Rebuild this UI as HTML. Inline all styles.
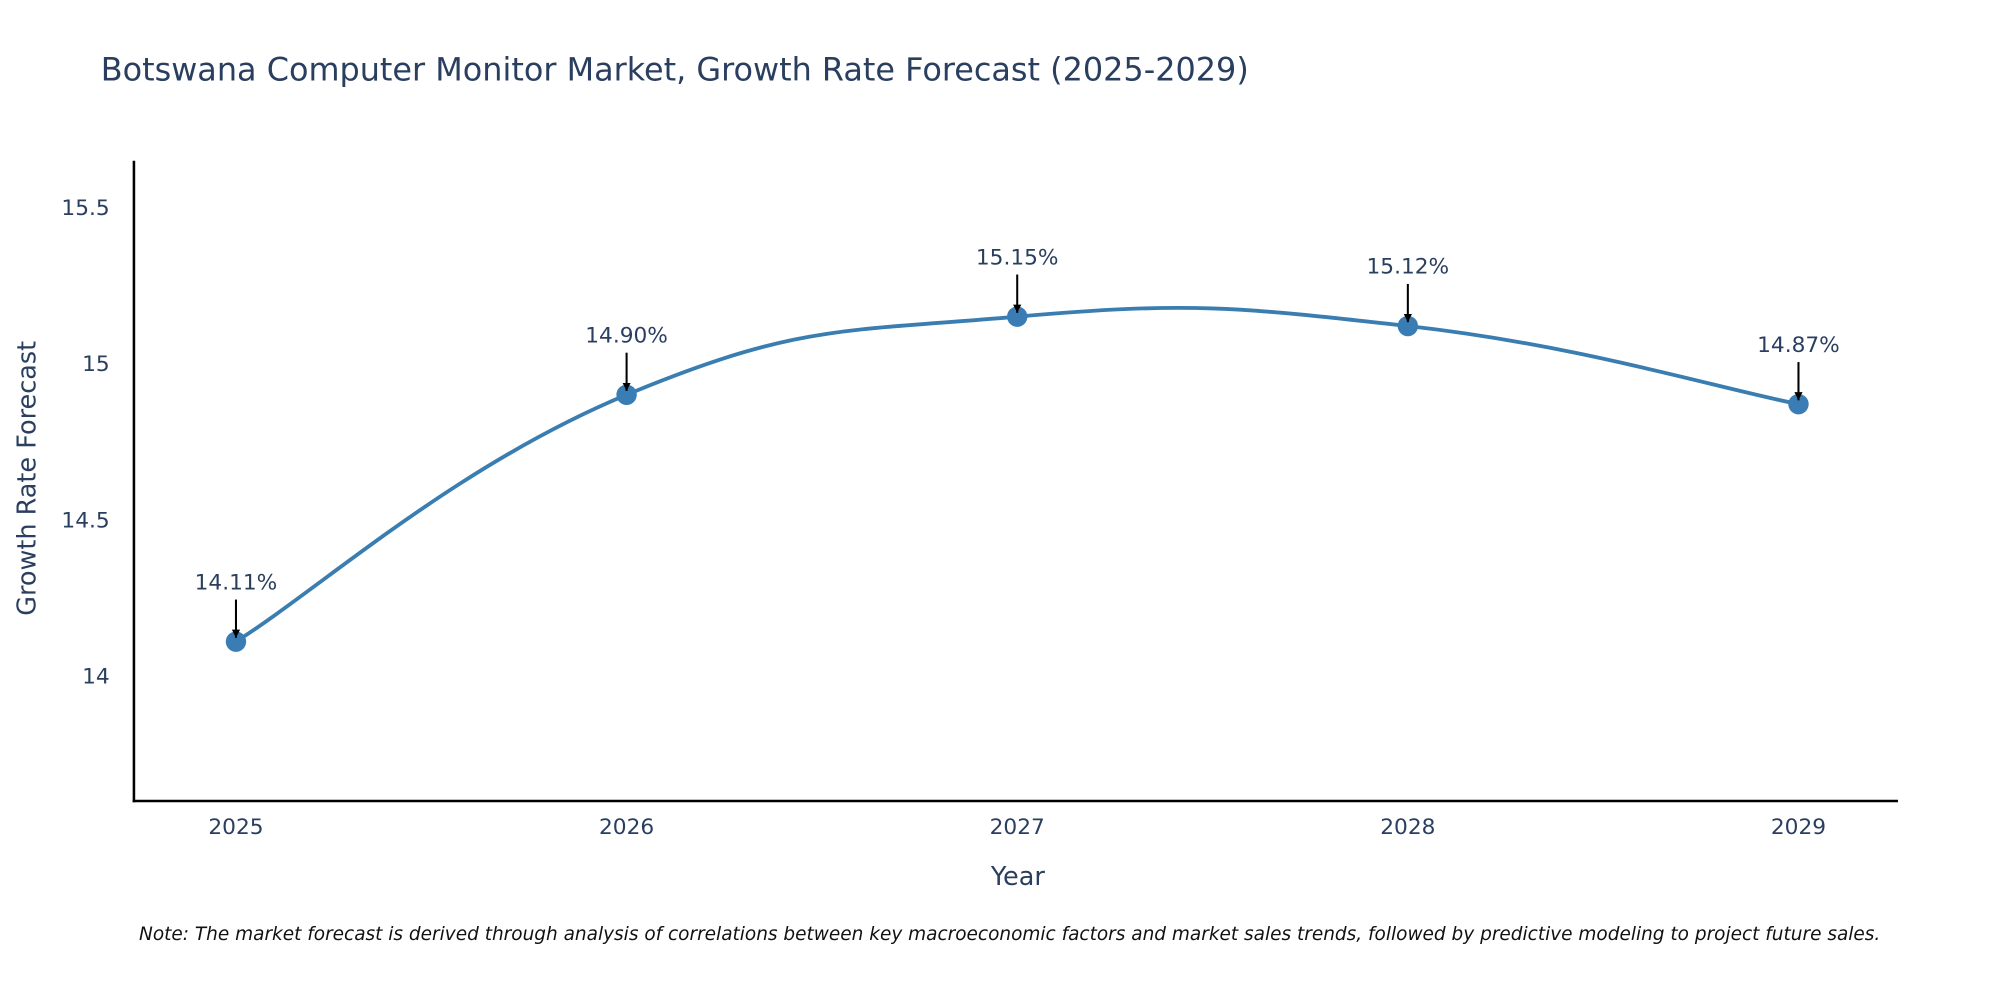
<!DOCTYPE html>
<html><head><meta charset="utf-8"><style>
html,body{margin:0;padding:0;background:#fff;}
svg{display:block;font-family:"DejaVu Sans","Liberation Sans",sans-serif;}
</style></head><body>
<svg id="chart" width="2000" height="1000" viewBox="0 0 1568 784">
<defs><marker id="ah" viewBox="0 0 10 10" refX="10" refY="5" markerWidth="4" markerHeight="4" orient="auto"><path d="M0,0 L10,5 L0,10 Z" fill="#000"/></marker></defs>
<text x="79" y="63" font-size="25" fill="#2a3f5f">Botswana Computer Monitor Market, Growth Rate Forecast (2025-2029)</text>
<g id="yticks"></g>
<g id="xticks"></g>
<line x1="105" y1="126" x2="105" y2="629" stroke="#000" stroke-width="2"/>
<line x1="104" y1="628" x2="1488" y2="628" stroke="#000" stroke-width="2"/>
<text transform="translate(28,375) rotate(-90)" text-anchor="middle" font-size="20" fill="#2a3f5f">Growth Rate Forecast</text>
<text x="798" y="694" text-anchor="middle" font-size="20" fill="#2a3f5f">Year</text>
<g id="series"></g>
<text x="109" y="737" font-size="14.5" font-style="italic" fill="#111">Note: The market forecast is derived through analysis of correlations between key macroeconomic factors and market sales trends, followed by predictive modeling to project future sales.</text>
</svg>
<script>
const years = [2025, 2026, 2027, 2028, 2029];
const growth = [14.11, 14.90, 15.15, 15.12, 14.87];
const yTickValues = [14, 14.5, 15, 15.5];
const yTickLabels = ["14", "14.5", "15", "15.5"];

const NS = "http://www.w3.org/2000/svg";
function xS(v){ return 185 + (v - 2025) * 306.25; }
function yS(v){ return 530 - (v - 14) * 245; }
function mk(tag, attrs, parent){ const e = document.createElementNS(NS, tag); for (const k in attrs) e.setAttribute(k, attrs[k]); parent.appendChild(e); return e; }

const yt = document.getElementById('yticks');
yTickValues.forEach((v, i) => {
  const t = mk('text', {x: 86, y: yS(v) + 6, 'text-anchor': 'end', 'font-size': 17, fill: '#2a3f5f'}, yt);
  t.textContent = yTickLabels[i];
  
  
});
const xt = document.getElementById('xticks');
years.forEach(y => {
  const t = mk('text', {x: xS(y), y: 654, 'text-anchor': 'middle', 'font-size': 17, fill: '#2a3f5f'}, xt);
  t.textContent = String(y);
  
  
});

const g = document.getElementById('series');
const pts = years.map((y, i) => [xS(y), yS(growth[i])]);
let d = `M${pts[0][0]},${pts[0][1]}`;
const tension = 0.22;
for (let i = 0; i < pts.length - 1; i++) {
  const p0 = pts[i - 1] || pts[i], p1 = pts[i], p2 = pts[i + 1], p3 = pts[i + 2] || p2;
  const c1 = [p1[0] + (p2[0] - p0[0]) * tension, p1[1] + (p2[1] - p0[1]) * tension];
  const c2 = [p2[0] - (p3[0] - p1[0]) * tension, p2[1] - (p3[1] - p1[1]) * tension];
  d += ` C${c1[0]},${c1[1]} ${c2[0]},${c2[1]} ${p2[0]},${p2[1]}`;
}
const line = mk('path', {d: d, fill: 'none', stroke: '#3a7db1', 'stroke-width': 3}, g);


pts.forEach((p, i) => {
  const c = mk('circle', {cx: p[0], cy: p[1], r: 8, fill: '#3a7db5'}, g);
  
  
  const a = mk('line', {x1: p[0], y1: p[1] - 33, x2: p[0], y2: p[1] - 3, stroke: '#000', 'stroke-width': 1.6, 'marker-end': 'url(#ah)'}, g);
  
  
  const t = mk('text', {x: p[0], y: p[1] -41, 'text-anchor': 'middle', 'font-size': 17, fill: '#2a3f5f'}, g);
  t.textContent = growth[i].toFixed(2) + '%';
  
  
});
</script>
</body></html>
